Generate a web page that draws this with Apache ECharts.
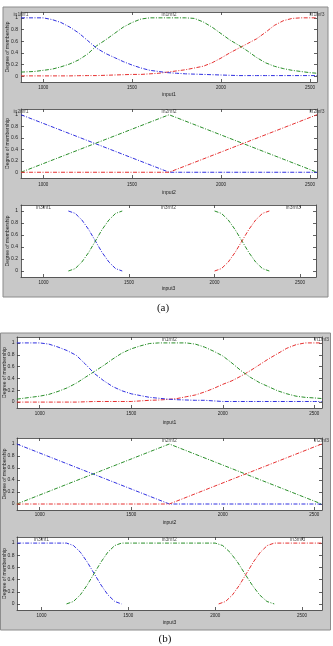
<!DOCTYPE html>
<html><head><meta charset="utf-8">
<script src="https://cdn.jsdelivr.net/npm/echarts@6/dist/echarts.min.js"></script>
<style>html,body{margin:0;padding:0;background:#fff}#c{width:333px;height:646px}</style>
</head><body><div id="c"></div>
<script>
// ---------------- data ----------------
const xTicks = [1000, 1500, 2000, 2500];
const yTicks = [0, 0.2, 0.4, 0.6, 0.8, 1];

// input1 (sampled x positions)
const in1X = [875, 950, 1000, 1050, 1100, 1150, 1200, 1250, 1300, 1350, 1400, 1450, 1500, 1550, 1600, 1650, 1700, 1750, 1800, 1850, 1900, 1950, 2000, 2050, 2100, 2150, 2200, 2250, 2300, 2350, 2400, 2450, 2500, 2540];
// (a) input1
const a_in1mf1 = [1, 1, 1, 0.97, 0.92, 0.84, 0.74, 0.61, 0.48, 0.39, 0.32, 0.25, 0.19, 0.14, 0.10, 0.08, 0.06, 0.05, 0.04, 0.035, 0.03, 0.025, 0.02, 0.015, 0.01, 0.01, 0.01, 0.01, 0.01, 0.01, 0.01, 0.01, 0.01, 0.01];
const a_in1mf2 = [0.07, 0.08, 0.10, 0.12, 0.16, 0.21, 0.28, 0.38, 0.52, 0.62, 0.73, 0.84, 0.92, 0.98, 1, 1, 1, 1, 1, 0.99, 0.93, 0.84, 0.73, 0.62, 0.53, 0.43, 0.32, 0.23, 0.17, 0.13, 0.10, 0.08, 0.06, 0.05];
const a_in1mf3 = [0.005, 0.005, 0.005, 0.005, 0.005, 0.005, 0.008, 0.01, 0.01, 0.015, 0.02, 0.025, 0.03, 0.03, 0.04, 0.05, 0.07, 0.09, 0.11, 0.14, 0.17, 0.23, 0.31, 0.40, 0.48, 0.56, 0.64, 0.75, 0.87, 0.95, 0.99, 1, 1, 1];
// (b) input1
const b_in1mf1 = [1, 1, 1, 0.98, 0.93, 0.87, 0.79, 0.64, 0.48, 0.36, 0.26, 0.19, 0.14, 0.11, 0.08, 0.065, 0.05, 0.04, 0.035, 0.03, 0.03, 0.02, 0.01, 0.01, 0.01, 0.01, 0.01, 0.01, 0.01, 0.01, 0.01, 0.01, 0.01, 0.01];
const b_in1mf2 = [0.05, 0.08, 0.10, 0.13, 0.18, 0.24, 0.32, 0.42, 0.52, 0.62, 0.73, 0.83, 0.90, 0.95, 0.99, 1, 1, 1, 1, 0.98, 0.93, 0.86, 0.78, 0.66, 0.53, 0.42, 0.33, 0.26, 0.19, 0.14, 0.10, 0.08, 0.07, 0.06];
const b_in1mf3 = [0, 0, 0, 0, 0, 0, 0, 0.005, 0.01, 0.01, 0.01, 0.01, 0.01, 0.02, 0.03, 0.035, 0.045, 0.06, 0.09, 0.12, 0.17, 0.23, 0.30, 0.36, 0.44, 0.53, 0.63, 0.73, 0.82, 0.91, 0.97, 1, 1, 1];

// input2 (triangles)
const in2X = [875, 1708, 2540];
const in2mf1 = [1, 0, 0];
const in2mf2 = [0, 1, 0];
const in2mf3 = [0, 0, 1];

// (a) input3
const a_in3LoX = [1145, 1185, 1224, 1264, 1303, 1342, 1382, 1421, 1460];
const a_in3HiX = [2000, 2040, 2080, 2120, 2160, 2200, 2240, 2280, 2320];
const a_in3mf1 = [1, 0.96, 0.85, 0.69, 0.5, 0.31, 0.15, 0.04, 0];
const a_in3mf2Lo = [0, 0.04, 0.15, 0.31, 0.5, 0.69, 0.85, 0.96, 1];
const a_in3mf2Hi = [1, 0.96, 0.85, 0.69, 0.5, 0.31, 0.15, 0.04, 0];
const a_in3mf3 = [0, 0.04, 0.15, 0.31, 0.5, 0.69, 0.85, 0.96, 1];

// (b) input3
const b_in3mf1X = [860, 1000, 1144, 1184, 1224, 1263, 1303, 1343, 1382, 1422, 1461];
const b_in3mf1 = [1, 1, 1, 0.96, 0.85, 0.69, 0.5, 0.31, 0.15, 0.04, 0];
const b_in3mf2X = [1144, 1184, 1224, 1263, 1303, 1343, 1382, 1422, 1461, 1730, 2000, 2043, 2085, 2128, 2170, 2213, 2255, 2298, 2340];
const b_in3mf2 = [0, 0.04, 0.15, 0.31, 0.5, 0.69, 0.85, 0.96, 1, 1, 1, 0.96, 0.85, 0.69, 0.5, 0.31, 0.15, 0.04, 0];
const b_in3mf3X = [2020, 2060, 2100, 2140, 2180, 2220, 2260, 2300, 2340, 2480, 2615];
const b_in3mf3 = [0, 0.04, 0.15, 0.31, 0.5, 0.69, 0.85, 0.96, 1, 1, 1];

// MF name labels (placed at MF centres)
const in1Names = ['in1mf1', 'in1mf2', 'in1mf3'];
const in2Names = ['in2mf1', 'in2mf2', 'in2mf3'];
const in3Names = ['in3mf1', 'in3mf2', 'in3mf3'];
const in1NameX = [875, 1708, 2540];
const a_in3NameX = [1000, 1730, 2460];
const b_in3NameX = [1000, 1735, 2475];

// ---------------- chart ----------------
const COL = { b: '#3030e0', g: '#2a8f2a', r: '#e63030' };
const FONT = 'Liberation Sans, Arial, sans-serif';
const DASH = [4, 1.5, 1, 1.5];

const plots = [
  { grid: { left: 21, top: 12, width: 296, height: 70 }, xr: [875, 2540], xname: 'input1', nameGap: 10.5, lblMargin: 3, yGap: 10.5, yMargin: 3,
    lines: [[in1X, a_in1mf3, 'r'], [in1X, a_in1mf2, 'g'], [in1X, a_in1mf1, 'b']], names: in1Names, nameX: in1NameX },
  { grid: { left: 21, top: 109, width: 296, height: 69 }, xr: [875, 2540], xname: 'input2', nameGap: 12, lblMargin: 4, yGap: 10.5, yMargin: 3,
    lines: [[in2X, in2mf1, 'b'], [in2X, in2mf2, 'g'], [in2X, in2mf3, 'r']], names: in2Names, nameX: in1NameX },
  { grid: { left: 21, top: 205, width: 295, height: 72 }, xr: [868, 2593], xname: 'input3', nameGap: 9.5, lblMargin: 3, yGap: 10.5, yMargin: 3,
    lines: [[a_in3LoX, a_in3mf1, 'b'], [a_in3LoX, a_in3mf2Lo, 'g'], [a_in3HiX, a_in3mf2Hi, 'g'], [a_in3HiX, a_in3mf3, 'r']], names: in3Names, nameX: a_in3NameX },
  { grid: { left: 17, top: 337, width: 305, height: 71 }, xr: [876, 2542], xname: 'input1', nameGap: 12, lblMargin: 3, yGap: 9.5, yMargin: 2.5,
    lines: [[in1X, b_in1mf3, 'r'], [in1X, b_in1mf2, 'g'], [in1X, b_in1mf1, 'b']], names: in1Names, nameX: in1NameX },
  { grid: { left: 17, top: 438, width: 305, height: 72 }, xr: [876, 2542], xname: 'input2', nameGap: 10, lblMargin: 2, yGap: 9.5, yMargin: 2.5,
    lines: [[in2X, in2mf1, 'b'], [in2X, in2mf2, 'g'], [in2X, in2mf3, 'r']], names: in2Names, nameX: in1NameX },
  { grid: { left: 17, top: 537, width: 305, height: 73 }, xr: [859, 2615], xname: 'input3', nameGap: 10, lblMargin: 3, yGap: 9.5, yMargin: 2.5,
    lines: [[b_in3mf1X, b_in3mf1, 'b'], [b_in3mf2X, b_in3mf2, 'g'], [b_in3mf3X, b_in3mf3, 'r']], names: in3Names, nameX: b_in3NameX }
];

const AX = '#3a3a3a';
const grids = [], xAxes = [], yAxes = [], series = [];
plots.forEach((p, gi) => {
  grids.push(Object.assign({ show: true, backgroundColor: '#ffffff', borderWidth: 0, containLabel: false, outerBoundsMode: 'none' }, p.grid));
  const tickCommon = { show: true, inside: true, length: 3, lineStyle: { color: AX, width: 0.8 } };
  xAxes.push({ type: 'value', gridIndex: gi, position: 'bottom', min: p.xr[0], max: p.xr[1],
    axisLine: { show: true, onZero: false, lineStyle: { color: AX, width: 0.8 } },
    axisTick: Object.assign({ customValues: xTicks }, tickCommon),
    axisLabel: { show: true, customValues: xTicks, formatter: v => String(v), fontSize: 4.5, margin: p.lblMargin, color: '#222', fontFamily: FONT },
    splitLine: { show: false },
    name: p.xname, nameLocation: 'middle', nameGap: p.nameGap, nameMoveOverlap: false,
    nameTextStyle: { fontSize: 5, color: '#222', fontFamily: FONT } });
  xAxes.push({ type: 'value', gridIndex: gi, position: 'top', min: p.xr[0], max: p.xr[1],
    axisLine: { show: true, onZero: false, lineStyle: { color: AX, width: 0.8 } },
    axisTick: Object.assign({ customValues: xTicks }, tickCommon),
    axisLabel: { show: false }, splitLine: { show: false } });
  yAxes.push({ type: 'value', gridIndex: gi, position: 'left', min: -0.1, max: 1.1,
    axisLine: { show: true, onZero: false, lineStyle: { color: AX, width: 0.8 } },
    axisTick: Object.assign({ customValues: yTicks }, tickCommon),
    axisLabel: { show: true, customValues: yTicks, formatter: v => String(v), fontSize: 5, margin: p.yMargin, color: '#222', fontFamily: FONT },
    splitLine: { show: false },
    name: 'Degree of membership', nameLocation: 'middle', nameRotate: 90, nameGap: p.yGap, nameMoveOverlap: false,
    nameTextStyle: { fontSize: 5, color: '#222', fontFamily: FONT } });
  yAxes.push({ type: 'value', gridIndex: gi, position: 'right', min: -0.1, max: 1.1,
    axisLine: { show: true, onZero: false, lineStyle: { color: AX, width: 0.8 } },
    axisTick: Object.assign({ customValues: yTicks }, tickCommon),
    axisLabel: { show: false }, splitLine: { show: false } });
  p.lines.forEach(([xs, ys, c]) => {
    series.push({ type: 'line', xAxisIndex: gi * 2, yAxisIndex: gi * 2, symbol: 'none', silent: true,
      data: xs.map((x, i) => [x, ys[i]]),
      lineStyle: { color: COL[c], width: 1, type: DASH } });
  });
  series.push({ type: 'scatter', xAxisIndex: gi * 2, yAxisIndex: gi * 2, symbolSize: 0, silent: true,
    data: p.nameX.map((x, i) => ({ value: [x, 1.055], name: p.names[i] })),
    label: { show: true, position: 'inside', formatter: '{b}', fontSize: 5, color: '#222', fontFamily: FONT } });
});

const chart = echarts.init(document.getElementById('c'), null, { renderer: 'canvas' });
chart.setOption({
  animation: false,
  backgroundColor: '#ffffff',
  grid: grids, xAxis: xAxes, yAxis: yAxes, series: series,
  graphic: [
    { type: 'rect', z: -10, shape: { x: 3, y: 7, width: 325, height: 290 }, style: { fill: '#c8c8c8', stroke: '#8c8c8c', lineWidth: 1 } },
    { type: 'rect', z: -10, shape: { x: 0.5, y: 333, width: 330, height: 297 }, style: { fill: '#c8c8c8', stroke: '#8c8c8c', lineWidth: 1 } },
    { type: 'text', x: 163, y: 308, style: { text: '(a)', font: '11px "Liberation Serif", serif', fill: '#111', textAlign: 'center', textVerticalAlign: 'middle' } },
    { type: 'text', x: 165, y: 639, style: { text: '(b)', font: '11px "Liberation Serif", serif', fill: '#111', textAlign: 'center', textVerticalAlign: 'middle' } }
  ]
});
</script></body></html>
